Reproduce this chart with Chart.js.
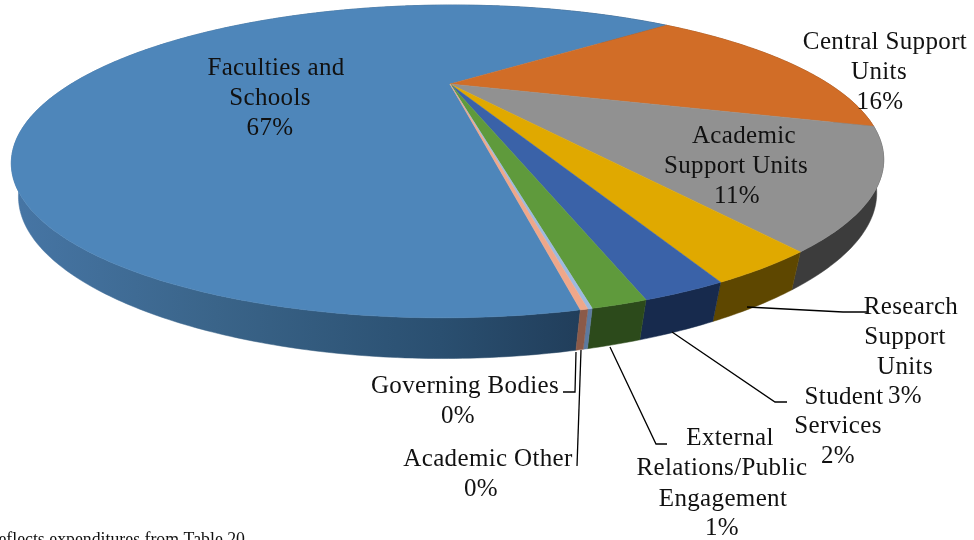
<!DOCTYPE html>
<html><head><meta charset="utf-8">
<style>html,body{margin:0;padding:0;background:#fff;overflow:hidden}canvas{display:block}</style>
<script src="https://cdn.jsdelivr.net/npm/chart.js@4/dist/chart.umd.min.js"></script>
</head><body><canvas id="c" width="974" height="540" style="width:974px;height:540px"></canvas>
<script>
const categories = ["Faculties and Schools","Central Support Units","Academic Support Units","Research Support Units","Student Services","External Relations/Public Engagement","Academic Other","Governing Bodies"];
const values = [66.51,16.39,10.8,2.75,2.0,1.28,0.1,0.17];
const percentLabels = ["67%","16%","11%","3%","2%","1%","0%","0%"];
const topColors = ["#4e86ba","#d16d27","#919191","#e0a900","#3a62a8","#5f9a3c","#9dbadf","#efa78a"];
const wallColors = ["#2f5578","#7a3f14","#3c3c3c","#5e4700","#172a4d","#2c4a1b","#5c7aa0","#8b5a48"];

// label layout: one entry per slice, [text, centre x, baseline y] for each line
const labelLayout = [
  [["Faculties and",276,75],["Schools",270,105],[null,270,135]],
  [["Central Support",885,49],["Units",879,79],[null,880,109]],
  [["Academic",744,143],["Support Units",736,173],[null,737,203]],
  [["Research",911,314],["Support",905,344],["Units",905,374],[null,905,403]],
  [["Student",844,404],["Services",838,433],[null,838,463]],
  [["External",730,445],["Relations/Public",722,475],["Engagement",723,506],[null,722,535]],
  [["Academic Other",488,466],[null,481,496]],
  [["Governing Bodies",465,393],[null,458,423]]
];
const leaderLines = [
  [[747,307],[843,312],[867,312]],
  [[672,332],[775,402],[787,402]],
  [[610,347],[656,444],[667,444]],
  [[581,350],[577,466]],
  [[576,352],[575,392],[563,392]]
];

// perspective projection of the unit disc on to the tilted pie top
const P = {cx:450, cy:84, A:379, B:76.5, k:-0.495, s:-3.8};
function topRim(a){
  const u=Math.cos(a), v=Math.sin(a), w=1+P.k*v;
  return [P.cx+(P.A*u+P.s*v)/w, (P.B*v+P.cy)/w];
}
function lowRim(a){
  const t=topRim(a), v=Math.sin(a);
  const sx=0.985-0.02*Math.pow(Math.max(v,0),4);
  return [P.cx+(t[0]-P.cx)*sx, t[1]+28+0.04*t[1]];
}
function samples(a0,a1){
  const n=Math.max(2,Math.ceil((a1-a0)/0.01)), r=[];
  for(let i=0;i<=n;i++) r.push(a0+(a1-a0)*i/n);
  return r;
}
const pie3d = {
  id:'pie3d',
  beforeDatasetsDraw(chart){
    const ctx=chart.ctx, arcs=chart.getDatasetMeta(0).data;
    ctx.save();
    ctx.lineJoin='round';
    // walls
    arcs.forEach((el,i)=>{
      const as=samples(el.startAngle,el.endAngle);
      ctx.beginPath();
      as.forEach((a,j)=>{const p=topRim(a); j?ctx.lineTo(p[0],p[1]):ctx.moveTo(p[0],p[1]);});
      as.slice().reverse().forEach(a=>{const p=lowRim(a); ctx.lineTo(p[0],p[1]);});
      ctx.closePath();
      let fill=wallColors[i];
      if(i===0){
        const g=ctx.createLinearGradient(20,0,580,0);
        g.addColorStop(0,"#4675a4");
        g.addColorStop(0.35,"#3a6489");
        g.addColorStop(0.75,"#2a4f70");
        g.addColorStop(1,"#213e5b");
        fill=g;
      }
      ctx.fillStyle=fill; ctx.strokeStyle=fill; ctx.lineWidth=0.5;
      ctx.fill(); ctx.stroke();
    });
    // top faces
    arcs.forEach((el,i)=>{
      const as=samples(el.startAngle,el.endAngle);
      ctx.beginPath();
      ctx.moveTo(P.cx,P.cy);
      as.forEach(a=>{const p=topRim(a); ctx.lineTo(p[0],p[1]);});
      ctx.closePath();
      ctx.fillStyle=topColors[i]; ctx.strokeStyle=topColors[i]; ctx.lineWidth=0.5;
      ctx.fill(); ctx.stroke();
    });
    ctx.restore();
    return false;
  },
  afterDraw(chart){
    const ctx=chart.ctx;
    ctx.save();
    ctx.strokeStyle="#000"; ctx.lineWidth=1.3;
    leaderLines.forEach(l=>{
      ctx.beginPath();
      l.forEach((p,j)=>j?ctx.lineTo(p[0],p[1]):ctx.moveTo(p[0],p[1]));
      ctx.stroke();
    });
    ctx.fillStyle="#111"; ctx.textAlign="center"; ctx.textBaseline="alphabetic";
    ctx.font='25px "Liberation Serif"';
    ctx.letterSpacing='0.35px';
    labelLayout.forEach((lines,i)=>{
      lines.forEach(l=>ctx.fillText(l[0]===null?percentLabels[i]:l[0],l[1],l[2]));
    });
    ctx.letterSpacing='0px';
    ctx.font='17.8px "Liberation Serif"'; ctx.textAlign="right";
    ctx.fillText("reflects expenditures from Table 20",245,545);
    ctx.restore();
  }
};
new Chart(document.getElementById('c'),{
  type:'pie',
  data:{labels:categories,datasets:[{data:values,backgroundColor:topColors,borderWidth:0}]},
  options:{
    responsive:false,animation:false,rotation:169.25,
    plugins:{legend:{display:false},tooltip:{enabled:false}}
  },
  plugins:[pie3d]
});
</script></body></html>
